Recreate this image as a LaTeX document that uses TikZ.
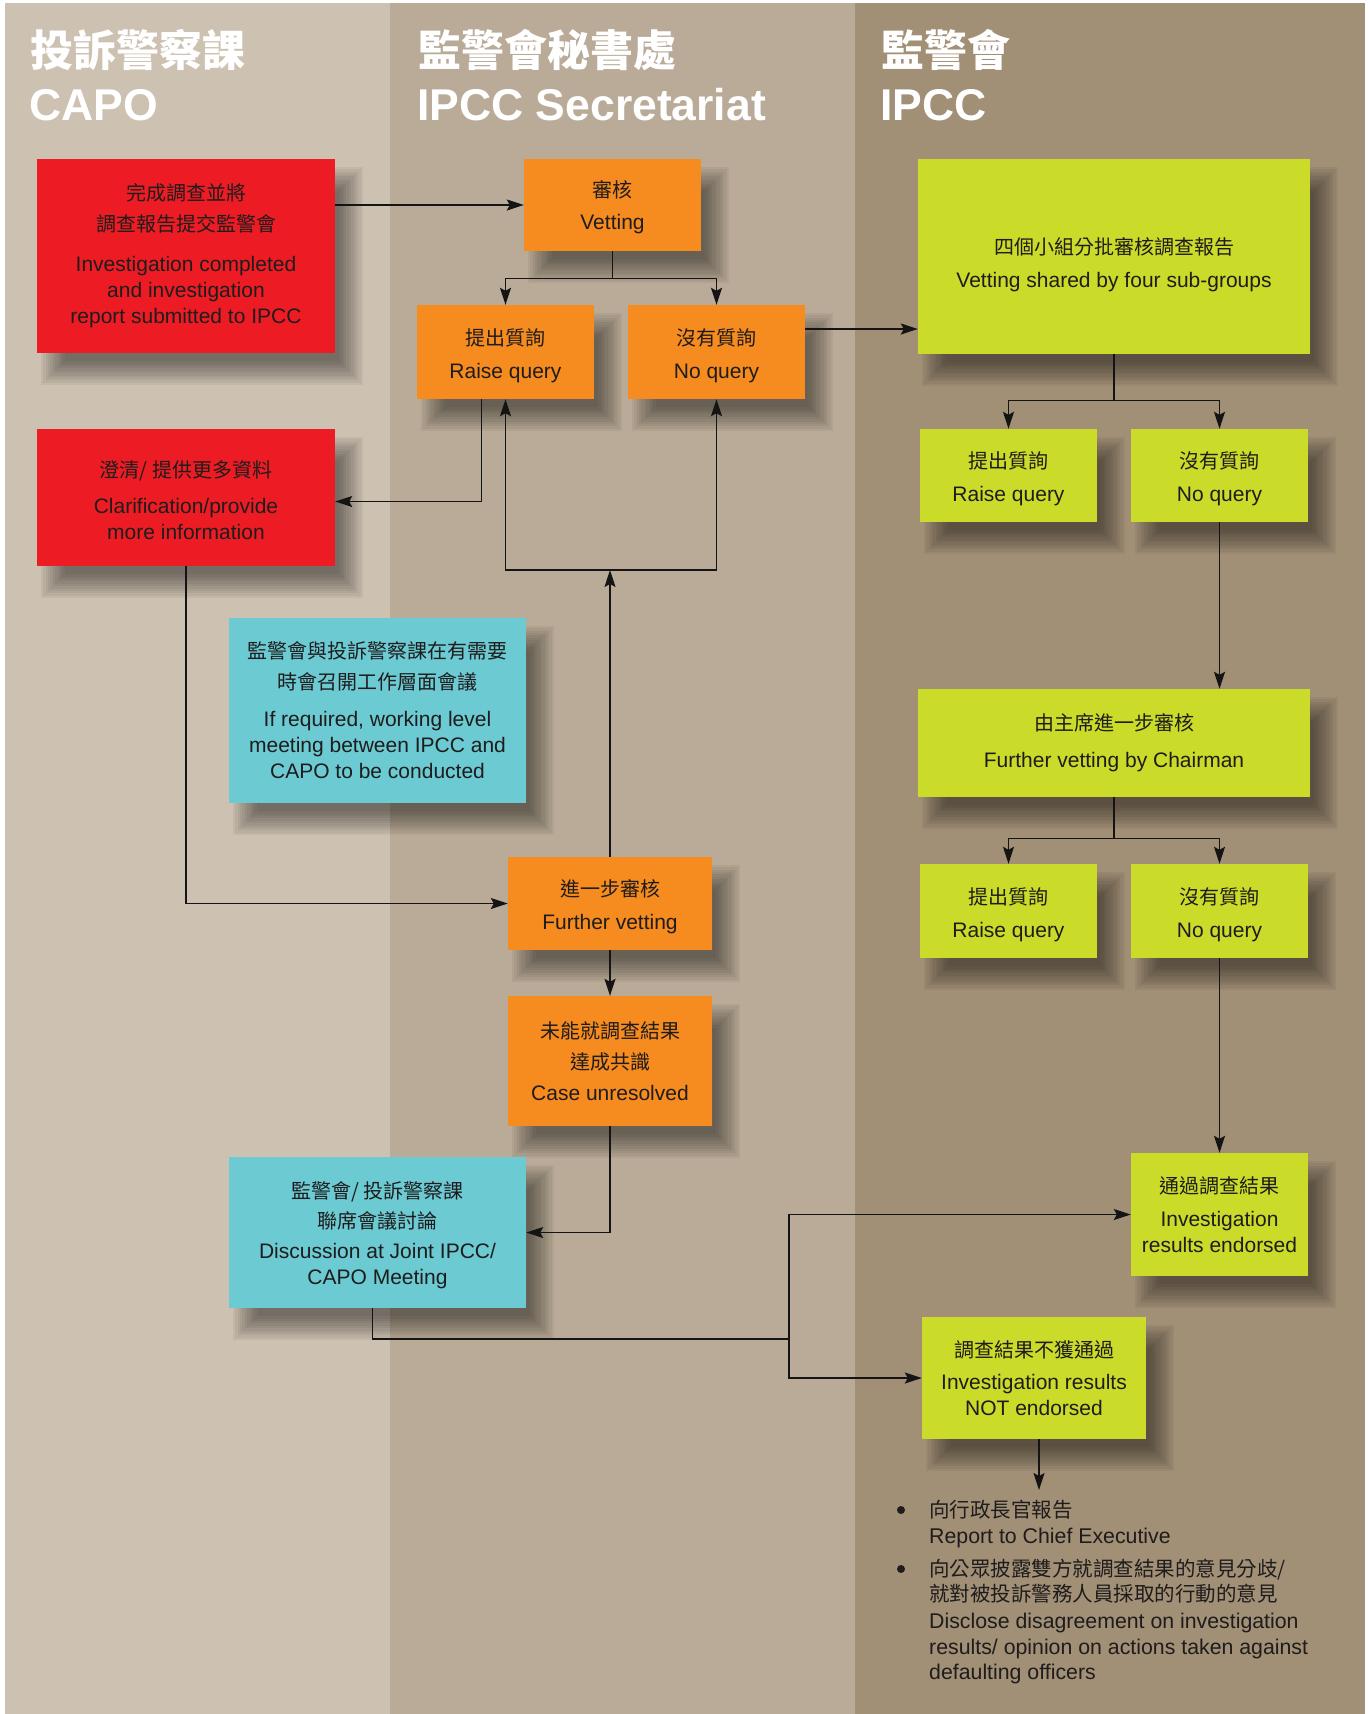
\documentclass[tikz,border=0pt]{standalone}
\usepackage{fontspec}
\setmainfont{Liberation Sans}
\newfontfamily\cjk{Noto Sans CJK TC}
\usetikzlibrary{arrows.meta,calc}
\pgfdeclarelayer{bg}
\pgfdeclarelayer{shadow}
\pgfsetlayers{bg,shadow,main}
\definecolor{colA}{RGB}{205,194,177}
\definecolor{colB}{RGB}{185,171,151}
\definecolor{colC}{RGB}{161,143,118}
\definecolor{boxred}{RGB}{237,28,36}
\definecolor{boxorange}{RGB}{246,139,31}
\definecolor{boxlime}{RGB}{203,219,41}
\definecolor{boxcyan}{RGB}{108,202,211}
\definecolor{txt}{RGB}{30,28,28}
\newcommand\zh[1]{{\cjk\fontsize{20}{26}\selectfont #1}}
\newcommand\zhb[1]{{\cjk\fontsize{20.5}{26}\selectfont #1}}
\newcommand\dn[1]{\rule{0pt}{#1}}
\newcommand\softshadow[1]{%
  \begin{pgfonlayer}{shadow}
  \foreach \k in {0,...,10}{%
    \pgfmathsetmacro\ins{-12+2.4*\k}%
    \pgfmathsetmacro\ax{16+\ins}\pgfmathsetmacro\ay{20+\ins}%
    \pgfmathsetmacro\bx{16-\ins}\pgfmathsetmacro\by{20-\ins}%
    \fill[black,opacity=0.047] ([shift={(\ax,\ay)}]#1.north west) rectangle ([shift={(\bx,\by)}]#1.south east);
  }
  \end{pgfonlayer}}
\tikzset{
  box/.style={inner sep=0pt, align=center, text=txt, font=\fontsize{21}{26}\selectfont},
  redbox/.style={box, fill=boxred},
  orbox/.style={box, fill=boxorange},
  limebox/.style={box, fill=boxlime},
  cyanbox/.style={box, fill=boxcyan},
  hdr/.style={anchor=base west, inner sep=0pt, text=white, font=\fontsize{43}{50}\selectfont\bfseries},
  hdre/.style={hdr, font=\fontsize{44.5}{50}\selectfont\bfseries},
  ln/.style={line width=1.4pt, draw=black!92},
  arr/.style={ln, -{Stealth[length=17pt,width=11pt,inset=3pt]}},
  bline/.style={anchor=base west, inner sep=0pt, text=txt, font=\fontsize{21.3}{26}\selectfont},
  bdot/.style={circle, fill=txt, inner sep=0pt, minimum size=8pt},
}
\begin{document}
\begin{tikzpicture}[x=1pt,y=-1pt]
\useasboundingbox (0,0) rectangle (1370,1714);
\begin{pgfonlayer}{bg}
\fill[white] (0,0) rectangle (1370,1714);
\fill[colA] (5,3) rectangle (390,1714);
\fill[colB] (390,3) rectangle (855,1714);
\fill[colC] (855,3) rectangle (1365,1714);
\end{pgfonlayer}

% headers
\node[hdr] (h1z) at (30,66) {\cjk\bfseries 投訴警察課};
\node[hdre] (h1e) at (29,120) {CAPO};
\node[hdr] (h2z) at (418,66) {\cjk\bfseries 監警會秘書處};
\node[hdre] (h2e) at (417,120) {IPCC Secretariat};
\node[hdr] (h3z) at (881,66) {\cjk\bfseries 監警會};
\node[hdre] (h3e) at (880,120) {IPCC};

% boxes
\node[redbox, minimum width=298pt, minimum height=194pt] (r1) at (186,256)
  {\zh{完成調查並將}\\[5pt]\zh{調查報告提交監警會}\\[14pt]Investigation completed\\and investigation\\report submitted to IPCC};
\node[orbox, minimum width=177pt, minimum height=92pt] (vet) at (612.5,205)
  {\dn{22pt}\zh{審核}\\[6pt]Vetting};
\node[orbox, minimum width=177pt, minimum height=94pt] (rq1) at (505.5,352)
  {\dn{24pt}\zh{提出質詢}\\[7pt]Raise query};
\node[orbox, minimum width=177pt, minimum height=94pt] (nq1) at (716.5,352)
  {\dn{24pt}\zh{沒有質詢}\\[7pt]No query};
\node[limebox, minimum width=392pt, minimum height=195pt] (grp) at (1114,256.5)
  {\dn{34pt}\zh{四個小組分批審核調查報告}\\[7pt]Vetting shared by four sub-groups};
\node[limebox, minimum width=177pt, minimum height=93pt] (rq2) at (1008.5,475.5)
  {\dn{24pt}\zh{提出質詢}\\[7pt]Raise query};
\node[limebox, minimum width=177pt, minimum height=93pt] (nq2) at (1219.5,475.5)
  {\dn{24pt}\zh{沒有質詢}\\[7pt]No query};
\node[redbox, minimum width=298pt, minimum height=137pt] (r2) at (186,497.5)
  {\dn{22pt}\zh{澄清/ 提供更多資料}\\[10pt]Clarification/provide\\more information};
\node[cyanbox, minimum width=297pt, minimum height=185pt] (c1) at (377.5,710.5)
  {\zh{監警會與投訴警察課在有需要}\\[5pt]\zh{時會召開工作層面會議}\\[11pt]If required, working level\\meeting between IPCC and\\CAPO to be conducted};
\node[limebox, minimum width=392pt, minimum height=108pt] (fvc) at (1114,743)
  {\zh{由主席進一步審核}\\[11pt]Further vetting by Chairman};
\node[orbox, minimum width=204pt, minimum height=93pt] (fv) at (610,903.5)
  {\dn{24pt}\zh{進一步審核}\\[7pt]Further vetting};
\node[limebox, minimum width=177pt, minimum height=94pt] (rq3) at (1008.5,911)
  {\dn{24pt}\zh{提出質詢}\\[7pt]Raise query};
\node[limebox, minimum width=177pt, minimum height=94pt] (nq3) at (1219.5,911)
  {\dn{24pt}\zh{沒有質詢}\\[7pt]No query};
\node[orbox, minimum width=204pt, minimum height=130pt] (cu) at (610,1061)
  {\zh{未能就調查結果}\\[5pt]\zh{達成共識}\\[5pt]Case unresolved};
\node[cyanbox, minimum width=297pt, minimum height=151pt] (c2) at (377.5,1232.5)
  {\dn{22pt}\zh{監警會/ 投訴警察課}\\[4pt]\zh{聯席會議討論}\\[4pt]Discussion at Joint IPCC/\\CAPO Meeting};
\node[limebox, minimum width=177pt, minimum height=123pt] (end) at (1219.5,1214.5)
  {\zh{通過調查結果}\\[7pt]Investigation\\results endorsed};
\node[limebox, minimum width=224pt, minimum height=122pt] (ne) at (1034,1378)
  {\zh{調查結果不獲通過}\\[6pt]Investigation results\\NOT endorsed};

\foreach \n in {r1,vet,rq1,nq1,grp,rq2,nq2,r2,c1,fvc,fv,rq3,nq3,cu,c2,end,ne}{\softshadow{\n}}

% bullet text
\node[bdot] (bu1) at (901,1510) {};
\node[bline] (bl1) at (929,1517) {\zhb{向行政長官報告}};
\node[bline] (bl2) at (929,1543) {Report to Chief Executive};
\node[bdot] (bu2) at (901,1569) {};
\node[bline] (bl3) at (929,1576) {\zhb{向公眾披露雙方就調查結果的意見分歧/}};
\node[bline] (bl4) at (929,1601) {\zhb{就對被投訴警務人員採取的行動的意見}};
\node[bline] (bl5) at (929,1628) {Disclose disagreement on investigation};
\node[bline] (bl6) at (929,1654) {results/ opinion on actions taken against};
\node[bline] (bl7) at (929,1679) {defaulting officers};

% connectors
\draw[arr] (r1.east |- vet.west) -- (vet.west);
\draw[ln] (vet.south) -- ++(0,27) coordinate (s1);
\draw[arr] (s1) -| (rq1.north);
\draw[arr] (s1) -| (nq1.north);
\coordinate (a3) at ([yshift=23pt]nq1.east);
\draw[arr] (a3) -- (a3 -| grp.west);
\coordinate (a4) at ([xshift=-24pt]rq1.south);
\draw[arr] (a4) |- ([yshift=-4pt]r2.east);
\coordinate (jn) at (611,570);
\draw[arr] (fv.north) -- (fv.north |- jn);
\draw[arr] (jn) -| (rq1.south);
\draw[arr] (jn) -| (nq1.south);
\draw[arr] (r2.south) |- (fv.west);
\draw[arr] (fv.south) -- (cu.north);
\draw[arr] (cu.south) |- (c2.east);
\coordinate (j2) at (789,1339);
\draw[ln] ([xshift=-5pt]c2.south) |- (j2);
\draw[arr] (j2) |- (end.west);
\draw[arr] (j2) |- (ne.west);
\draw[ln] (grp.south) -- ++(0,46) coordinate (s2);
\draw[arr] (s2) -| (rq2.north);
\draw[arr] (s2) -| (nq2.north);
\draw[arr] (nq2.south) -- (nq2.south |- fvc.north);
\draw[ln] (fvc.south) -- ++(0,41) coordinate (s3);
\draw[arr] (s3) -| (rq3.north);
\draw[arr] (s3) -| (nq3.north);
\draw[arr] (nq3.south) -- (end.north);
\coordinate (bt) at (1039,1490);
\draw[arr] ([xshift=5pt]ne.south) -- (bt);
\end{tikzpicture}
\end{document}
